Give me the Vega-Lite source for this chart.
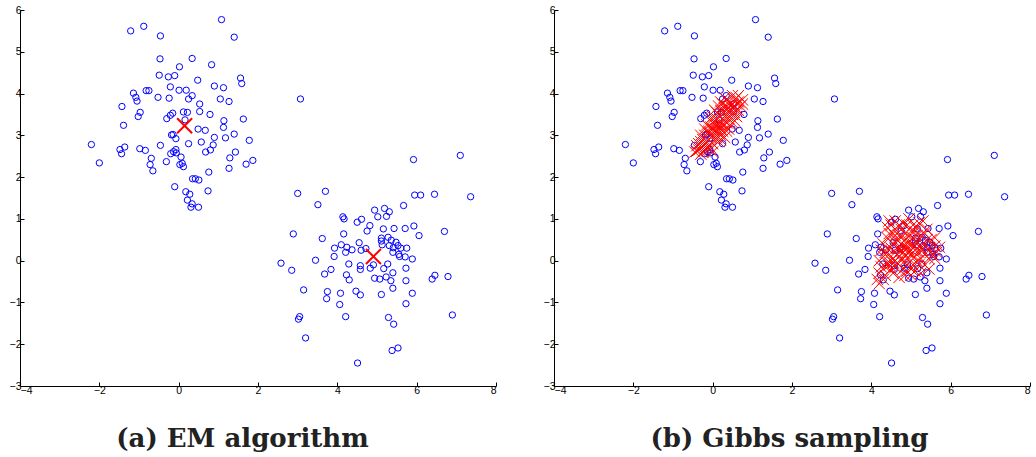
{
  "$schema": "https://vega.github.io/schema/vega-lite/v6.json",
  "background": "white",
  "padding": {"left": 9, "top": 5, "right": 5, "bottom": 0},
  "spacing": 46,
  "datasets": {
    "points": [
      {"x": -2.20, "y": 2.78}, {"x": -2.00, "y": 2.34}, {"x": -1.21, "y": 5.50}, {"x": -0.88, "y": 5.61}, {"x": -0.46, "y": 5.38},
      {"x": 1.08, "y": 5.77}, {"x": 1.40, "y": 5.35}, {"x": -0.47, "y": 4.83}, {"x": 0.34, "y": 4.84}, {"x": 0.83, "y": 4.69},
      {"x": 0.02, "y": 4.64}, {"x": -0.49, "y": 4.44}, {"x": -0.26, "y": 4.40}, {"x": -0.10, "y": 4.43}, {"x": 0.48, "y": 4.32},
      {"x": 1.56, "y": 4.37}, {"x": 1.59, "y": 4.24}, {"x": -0.21, "y": 4.16}, {"x": 0.90, "y": 4.18}, {"x": 1.13, "y": 4.14},
      {"x": 0.01, "y": 4.08}, {"x": 0.19, "y": 4.08}, {"x": -1.14, "y": 4.01}, {"x": -0.82, "y": 4.07}, {"x": -0.75, "y": 4.07},
      {"x": -1.08, "y": 3.91}, {"x": -1.05, "y": 3.82}, {"x": -0.52, "y": 3.91}, {"x": -0.24, "y": 3.89}, {"x": 0.34, "y": 3.95},
      {"x": 0.25, "y": 3.87}, {"x": 1.05, "y": 3.87}, {"x": 1.27, "y": 3.81}, {"x": 0.53, "y": 3.75}, {"x": -1.43, "y": 3.69},
      {"x": 0.53, "y": 3.57}, {"x": 0.12, "y": 3.56}, {"x": 0.22, "y": 3.55}, {"x": -0.97, "y": 3.55}, {"x": -1.02, "y": 3.45},
      {"x": -0.15, "y": 3.53}, {"x": -0.21, "y": 3.48}, {"x": 0.79, "y": 3.50}, {"x": -0.30, "y": 3.40}, {"x": 0.16, "y": 3.37},
      {"x": 1.63, "y": 3.39}, {"x": 1.14, "y": 3.35}, {"x": -1.39, "y": 3.24}, {"x": 1.13, "y": 3.19}, {"x": 0.49, "y": 3.15},
      {"x": 0.67, "y": 3.12}, {"x": 1.40, "y": 3.03}, {"x": -0.18, "y": 3.01}, {"x": -0.14, "y": 3.02}, {"x": -0.07, "y": 2.92},
      {"x": 0.90, "y": 2.95}, {"x": 1.18, "y": 2.94}, {"x": 1.78, "y": 2.88}, {"x": 0.57, "y": 2.84}, {"x": 0.25, "y": 2.80},
      {"x": -0.46, "y": 2.76}, {"x": 0.87, "y": 2.77}, {"x": -1.36, "y": 2.72}, {"x": -1.48, "y": 2.66}, {"x": -1.44, "y": 2.56},
      {"x": -0.98, "y": 2.68}, {"x": -0.84, "y": 2.64}, {"x": -0.07, "y": 2.66}, {"x": -0.13, "y": 2.61}, {"x": -0.20, "y": 2.56},
      {"x": -0.06, "y": 2.58}, {"x": 0.80, "y": 2.65}, {"x": 0.68, "y": 2.60}, {"x": 1.43, "y": 2.60}, {"x": -0.69, "y": 2.45},
      {"x": 0.06, "y": 2.48}, {"x": 1.29, "y": 2.46}, {"x": -0.72, "y": 2.30}, {"x": -0.31, "y": 2.37}, {"x": 0.03, "y": 2.30},
      {"x": 0.09, "y": 2.33}, {"x": 0.12, "y": 2.25}, {"x": 1.87, "y": 2.40}, {"x": 1.70, "y": 2.31}, {"x": -0.65, "y": 2.15},
      {"x": 1.27, "y": 2.21}, {"x": 0.76, "y": 2.12}, {"x": 0.35, "y": 1.96}, {"x": 0.42, "y": 1.96}, {"x": 0.51, "y": 1.93},
      {"x": -0.10, "y": 1.77}, {"x": 0.18, "y": 1.65}, {"x": 0.28, "y": 1.59}, {"x": 0.74, "y": 1.67}, {"x": 0.22, "y": 1.45},
      {"x": 0.34, "y": 1.36}, {"x": 0.31, "y": 1.28}, {"x": 0.50, "y": 1.28}, {"x": 3.07, "y": 3.87},
      {"x": 7.10, "y": 2.52}, {"x": 5.92, "y": 2.42}, {"x": 3.00, "y": 1.61}, {"x": 3.70, "y": 1.66}, {"x": 5.95, "y": 1.57},
      {"x": 6.10, "y": 1.57}, {"x": 6.45, "y": 1.59}, {"x": 7.36, "y": 1.53}, {"x": 3.51, "y": 1.34}, {"x": 5.67, "y": 1.32},
      {"x": 5.19, "y": 1.25}, {"x": 5.31, "y": 1.17}, {"x": 4.94, "y": 1.21}, {"x": 5.02, "y": 1.05}, {"x": 5.24, "y": 1.06},
      {"x": 4.14, "y": 1.05}, {"x": 4.17, "y": 1.00}, {"x": 4.61, "y": 0.99}, {"x": 4.50, "y": 0.92}, {"x": 4.82, "y": 0.84},
      {"x": 4.75, "y": 0.71}, {"x": 5.16, "y": 0.76}, {"x": 5.43, "y": 0.77}, {"x": 5.71, "y": 0.77}, {"x": 5.93, "y": 0.83},
      {"x": 6.70, "y": 0.70}, {"x": 2.89, "y": 0.64}, {"x": 4.16, "y": 0.64}, {"x": 6.06, "y": 0.60}, {"x": 3.62, "y": 0.53},
      {"x": 5.11, "y": 0.54}, {"x": 5.28, "y": 0.56}, {"x": 5.11, "y": 0.47}, {"x": 5.36, "y": 0.49}, {"x": 5.48, "y": 0.44},
      {"x": 4.55, "y": 0.43}, {"x": 4.10, "y": 0.38}, {"x": 5.13, "y": 0.38}, {"x": 5.31, "y": 0.36}, {"x": 5.53, "y": 0.36},
      {"x": 4.24, "y": 0.32}, {"x": 5.41, "y": 0.31}, {"x": 3.93, "y": 0.30}, {"x": 5.75, "y": 0.30}, {"x": 5.60, "y": 0.30},
      {"x": 4.37, "y": 0.26}, {"x": 4.60, "y": 0.25}, {"x": 4.72, "y": 0.29}, {"x": 4.21, "y": 0.20}, {"x": 5.40, "y": 0.20},
      {"x": 5.55, "y": 0.15}, {"x": 5.57, "y": 0.10}, {"x": 3.92, "y": 0.10}, {"x": 5.71, "y": 0.09}, {"x": 5.89, "y": 0.04},
      {"x": 2.58, "y": -0.06}, {"x": 3.45, "y": 0.01}, {"x": 4.29, "y": -0.08}, {"x": 4.58, "y": -0.12}, {"x": 4.91, "y": -0.10},
      {"x": 5.27, "y": -0.08}, {"x": 2.85, "y": -0.23}, {"x": 3.84, "y": -0.21}, {"x": 4.58, "y": -0.21}, {"x": 4.83, "y": -0.18},
      {"x": 5.17, "y": -0.19}, {"x": 5.73, "y": -0.18}, {"x": 3.68, "y": -0.32}, {"x": 4.23, "y": -0.34}, {"x": 5.40, "y": -0.29},
      {"x": 4.94, "y": -0.42}, {"x": 5.07, "y": -0.44}, {"x": 5.23, "y": -0.39}, {"x": 4.30, "y": -0.46}, {"x": 5.35, "y": -0.48},
      {"x": 5.73, "y": -0.48}, {"x": 6.39, "y": -0.44}, {"x": 6.46, "y": -0.35}, {"x": 6.79, "y": -0.38}, {"x": 3.15, "y": -0.70},
      {"x": 3.75, "y": -0.74}, {"x": 3.73, "y": -0.91}, {"x": 4.47, "y": -0.73}, {"x": 4.58, "y": -0.82}, {"x": 4.08, "y": -0.78},
      {"x": 5.11, "y": -0.81}, {"x": 5.40, "y": -0.66}, {"x": 5.89, "y": -0.78}, {"x": 4.06, "y": -1.05}, {"x": 5.73, "y": -1.03},
      {"x": 3.05, "y": -1.34}, {"x": 3.02, "y": -1.40}, {"x": 4.21, "y": -1.34}, {"x": 5.29, "y": -1.36}, {"x": 5.42, "y": -1.52},
      {"x": 6.90, "y": -1.30}, {"x": 3.20, "y": -1.85}, {"x": 5.38, "y": -2.15}, {"x": 5.53, "y": -2.09}, {"x": 4.51, "y": -2.45}
    ],
    "em": [
      {"x": 0.15, "y": 3.23}, {"x": 4.91, "y": 0.10}
    ],
    "gibbs": [
      {"x": 0.15, "y": 3.25}, {"x": 0.2, "y": 3.3}, {"x": 0.1, "y": 3.15}, {"x": 0.25, "y": 3.4}, {"x": 0.05, "y": 3.1},
      {"x": 0.3, "y": 3.45}, {"x": 0.0, "y": 3.0}, {"x": 0.35, "y": 3.5}, {"x": -0.05, "y": 2.95}, {"x": 0.4, "y": 3.55},
      {"x": -0.1, "y": 2.9}, {"x": 0.45, "y": 3.6}, {"x": -0.15, "y": 2.85}, {"x": 0.5, "y": 3.65}, {"x": -0.2, "y": 2.8},
      {"x": 0.55, "y": 3.7}, {"x": -0.25, "y": 2.75}, {"x": 0.6, "y": 3.75}, {"x": -0.3, "y": 2.7}, {"x": 0.65, "y": 3.8},
      {"x": -0.35, "y": 2.65}, {"x": 0.75, "y": 3.85}, {"x": -0.4, "y": 2.62}, {"x": 0.0, "y": 3.3}, {"x": 0.1, "y": 3.4},
      {"x": 0.2, "y": 3.15}, {"x": 0.3, "y": 3.25}, {"x": -0.1, "y": 3.1}, {"x": 0.05, "y": 3.35}, {"x": 0.25, "y": 3.1},
      {"x": 0.35, "y": 3.3}, {"x": 0.15, "y": 3.5}, {"x": 0.4, "y": 3.4}, {"x": -0.05, "y": 3.2}, {"x": 0.45, "y": 3.45},
      {"x": 0.1, "y": 2.95}, {"x": 0.2, "y": 3.0}, {"x": -0.2, "y": 3.0}, {"x": 0.3, "y": 3.65}, {"x": 0.5, "y": 3.5},
      {"x": 0.55, "y": 3.55}, {"x": -0.15, "y": 2.7}, {"x": 0.0, "y": 2.8}, {"x": 0.6, "y": 3.6}, {"x": -0.25, "y": 2.9},
      {"x": 0.2, "y": 3.6}, {"x": 0.35, "y": 3.7}, {"x": 0.4, "y": 3.8}, {"x": 0.1, "y": 3.25}, {"x": -0.3, "y": 2.85},
      {"x": 0.25, "y": 3.55}, {"x": 0.05, "y": 2.9}, {"x": 0.15, "y": 3.05}, {"x": -0.1, "y": 3.05}, {"x": 0.3, "y": 3.35},
      {"x": 0.45, "y": 3.7}, {"x": 0.55, "y": 3.85}, {"x": 0.65, "y": 3.6}, {"x": -0.35, "y": 2.8}, {"x": -0.45, "y": 2.6},
      {"x": 0.0, "y": 3.15}, {"x": 0.1, "y": 3.0}, {"x": 0.2, "y": 3.45},
      {"x": -0.2, "y": 3.15}, {"x": 0.0, "y": 3.45}, {"x": 0.35, "y": 3.1}, {"x": 0.5, "y": 3.3}, {"x": 0.1, "y": 3.55},
      {"x": 0.25, "y": 3.75}, {"x": -0.3, "y": 3.0}, {"x": 0.6, "y": 3.45}, {"x": 0.05, "y": 3.6}, {"x": 0.45, "y": 3.25},
      {"x": -0.15, "y": 3.25}, {"x": 0.3, "y": 2.95}, {"x": 0.15, "y": 2.85}, {"x": -0.25, "y": 2.6}, {"x": 0.7, "y": 3.7},
      {"x": 0.65, "y": 3.95}, {"x": 0.5, "y": 3.95}, {"x": 0.3, "y": 3.9}, {"x": -0.05, "y": 2.7}, {"x": -0.4, "y": 2.75},
      {"x": 0.4, "y": 3.15}, {"x": 0.55, "y": 3.35}, {"x": 0.2, "y": 3.8}, {"x": 0.15, "y": 3.7}, {"x": 0.0, "y": 2.6},
      {"x": -0.1, "y": 2.75}, {"x": 0.35, "y": 3.85}, {"x": 0.25, "y": 3.25}, {"x": -0.05, "y": 3.4}, {"x": 0.45, "y": 3.55},
      {"x": 0.6, "y": 3.9}, {"x": 0.75, "y": 3.75}, {"x": -0.2, "y": 2.65}, {"x": 0.1, "y": 3.1}, {"x": 0.2, "y": 2.9},
      {"x": 0.4, "y": 3.65}, {"x": 0.05, "y": 3.25}, {"x": 0.35, "y": 3.6}, {"x": -0.3, "y": 2.55}, {"x": 0.5, "y": 3.75},
      {"x": 4.8, "y": 0.2}, {"x": 4.9, "y": 0.3}, {"x": 4.7, "y": 0.1}, {"x": 5.0, "y": 0.25}, {"x": 4.6, "y": 0.2},
      {"x": 5.1, "y": 0.35}, {"x": 4.75, "y": 0.4}, {"x": 4.95, "y": 0.05}, {"x": 4.85, "y": 0.5}, {"x": 5.2, "y": 0.2},
      {"x": 4.5, "y": 0.3}, {"x": 4.65, "y": -0.05}, {"x": 5.05, "y": 0.55}, {"x": 4.55, "y": 0.05}, {"x": 5.3, "y": 0.4},
      {"x": 4.9, "y": -0.1}, {"x": 4.7, "y": 0.6}, {"x": 5.15, "y": 0.0}, {"x": 4.45, "y": 0.15}, {"x": 5.35, "y": 0.15},
      {"x": 4.8, "y": -0.2}, {"x": 5.0, "y": 0.7}, {"x": 4.6, "y": 0.45}, {"x": 5.25, "y": 0.6}, {"x": 4.4, "y": -0.05},
      {"x": 5.45, "y": 0.3}, {"x": 4.95, "y": 0.45}, {"x": 4.75, "y": 0.25}, {"x": 5.1, "y": 0.1}, {"x": 4.85, "y": 0.0},
      {"x": 4.3, "y": 0.1}, {"x": 4.2, "y": -0.3}, {"x": 4.15, "y": -0.45}, {"x": 4.35, "y": -0.35}, {"x": 4.25, "y": 0.25},
      {"x": 4.5, "y": -0.2}, {"x": 4.6, "y": 0.75}, {"x": 4.45, "y": 0.95}, {"x": 4.55, "y": -0.3}, {"x": 5.2, "y": 0.9},
      {"x": 5.1, "y": -0.25}, {"x": 5.35, "y": -0.1}, {"x": 5.5, "y": 0.5}, {"x": 5.6, "y": 0.35}, {"x": 5.72, "y": 0.32},
      {"x": 5.6, "y": 0.05}, {"x": 5.4, "y": 0.75}, {"x": 4.4, "y": 0.55}, {"x": 4.3, "y": 0.4}, {"x": 4.45, "y": 0.65},
      {"x": 5.0, "y": -0.35}, {"x": 4.9, "y": 0.85}, {"x": 5.25, "y": -0.3}, {"x": 5.55, "y": 0.15}, {"x": 4.2, "y": 0.0},
      {"x": 4.7, "y": -0.4}, {"x": 5.3, "y": 0.95}, {"x": 4.35, "y": -0.15}, {"x": 4.95, "y": 1.0}, {"x": 5.45, "y": -0.2},
      {"x": 4.75, "y": 0.75}, {"x": 5.15, "y": 0.8}, {"x": 4.5, "y": 0.85}, {"x": 4.65, "y": 0.5}, {"x": 5.05, "y": -0.1},
      {"x": 4.85, "y": 0.65}, {"x": 5.3, "y": 0.25}, {"x": 4.6, "y": -0.15},
      {"x": 4.9, "y": 0.2}, {"x": 4.8, "y": 0.35}, {"x": 4.7, "y": 0.3}, {"x": 5.0, "y": 0.15}, {"x": 4.85, "y": 0.1},
      {"x": 4.65, "y": 0.15}, {"x": 5.05, "y": 0.4}, {"x": 4.95, "y": 0.6}, {"x": 4.75, "y": 0.0}, {"x": 5.15, "y": 0.45},
      {"x": 4.55, "y": 0.4}, {"x": 5.25, "y": 0.3}, {"x": 4.6, "y": 0.6}, {"x": 4.4, "y": 0.3}, {"x": 5.4, "y": 0.5},
      {"x": 4.5, "y": 0.0}, {"x": 5.2, "y": -0.1}, {"x": 4.9, "y": -0.25}, {"x": 4.7, "y": 0.85}, {"x": 5.05, "y": 0.85},
      {"x": 4.35, "y": 0.2}, {"x": 5.5, "y": 0.2}, {"x": 4.25, "y": -0.15}, {"x": 5.35, "y": 0.65}, {"x": 4.55, "y": 0.65},
      {"x": 4.45, "y": -0.1}, {"x": 5.15, "y": 0.6}, {"x": 4.8, "y": 0.9}, {"x": 4.85, "y": -0.35}, {"x": 5.0, "y": -0.2},
      {"x": 4.6, "y": 0.95}, {"x": 5.1, "y": 0.7}, {"x": 4.3, "y": -0.45}, {"x": 4.2, "y": -0.55}, {"x": 5.6, "y": 0.55},
      {"x": 5.65, "y": 0.2}, {"x": 4.4, "y": 0.8}, {"x": 4.95, "y": 0.2}, {"x": 4.65, "y": 0.3}, {"x": 5.25, "y": 0.05},
      {"x": 4.75, "y": 0.55}, {"x": 4.85, "y": 0.3}, {"x": 5.1, "y": 0.25}, {"x": 4.55, "y": -0.05}, {"x": 5.45, "y": 0.05}
    ]
  },
  "hconcat": [
    {
      "width": 476,
      "height": 376,
      "layer": [
        {
          "data": {"name": "points"},
          "mark": {"type": "point", "shape": "circle", "filled": false, "color": "#0000ff", "size": 40, "strokeWidth": 1, "opacity": 1},
          "encoding": {
            "x": {"field": "x", "type": "quantitative", "scale": {"domain": [-4, 8], "nice": false, "zero": false},
                  "axis": {"values": [-4, -2, 0, 2, 4, 6, 8], "title": "(a) EM algorithm", "titleX": 222, "titleAlign": "center"}},
            "y": {"field": "y", "type": "quantitative", "scale": {"domain": [-3, 6], "nice": false, "zero": false},
                  "axis": {"values": [-3, -2, -1, 0, 1, 2, 3, 4, 5, 6], "title": null}}
          }
        },
        {
          "data": {"name": "em"},
          "mark": {"type": "point", "shape": "M-1,-1L1,1M-1,1L1,-1", "filled": false, "color": "#ff0000", "size": 225, "strokeWidth": 2, "opacity": 1},
          "encoding": {
            "x": {"field": "x", "type": "quantitative"},
            "y": {"field": "y", "type": "quantitative"}
          }
        }
      ]
    },
    {
      "width": 476,
      "height": 376,
      "layer": [
        {
          "data": {"name": "points"},
          "mark": {"type": "point", "shape": "circle", "filled": false, "color": "#0000ff", "size": 40, "strokeWidth": 1, "opacity": 1},
          "encoding": {
            "x": {"field": "x", "type": "quantitative", "scale": {"domain": [-4, 8], "nice": false, "zero": false},
                  "axis": {"values": [-4, -2, 0, 2, 4, 6, 8], "title": "(b) Gibbs sampling", "titleX": 235, "titleAlign": "center"}},
            "y": {"field": "y", "type": "quantitative", "scale": {"domain": [-3, 6], "nice": false, "zero": false},
                  "axis": {"values": [-3, -2, -1, 0, 1, 2, 3, 4, 5, 6], "title": null}}
          }
        },
        {
          "data": {"name": "gibbs"},
          "mark": {"type": "point", "shape": "M-1,-1L1,1M-1,1L1,-1", "filled": false, "color": "#ff0000", "size": 130, "strokeWidth": 1, "opacity": 1},
          "encoding": {
            "x": {"field": "x", "type": "quantitative"},
            "y": {"field": "y", "type": "quantitative"}
          }
        }
      ]
    }
  ],
  "config": {
    "view": {"stroke": null},
    "axis": {
      "grid": false,
      "domainColor": "#000000",
      "domainWidth": 1,
      "tickColor": "#000000",
      "tickSize": -4,
      "tickWidth": 1,
      "labelColor": "#000000",
      "labelFont": "Liberation Sans",
      "labelFontSize": 10.5,
      "labelPadding": 3,
      "titleFont": "DejaVu Serif",
      "titleFontWeight": "bold",
      "titleFontSize": 26,
      "titleColor": "#222222",
      "titlePadding": 30
    }
  }
}
